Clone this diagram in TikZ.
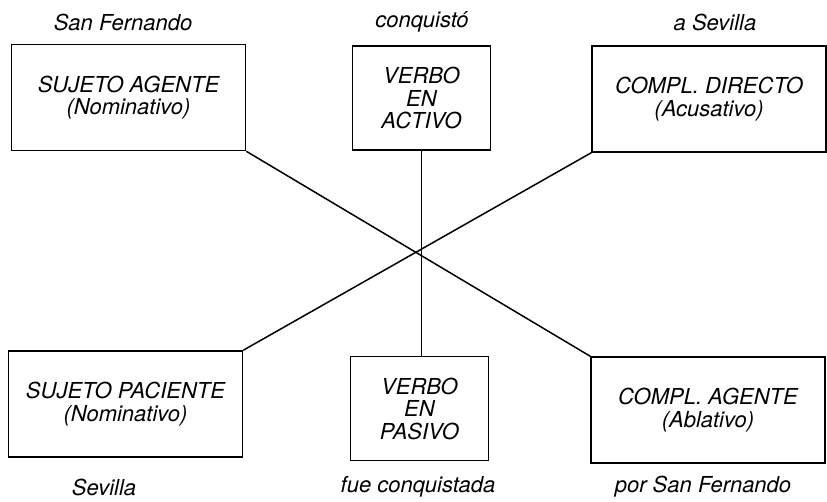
\documentclass[tikz,border=0pt]{standalone}
\usepackage{fontspec}
\setmainfont{TeX Gyre Heros}
\begin{document}
\begin{tikzpicture}[x=1pt,y=-1pt,
  every node/.style={font=\itshape\fontsize{22}{22.5}\selectfont},
  casebox/.style={draw, line width=1.5pt, minimum width=234pt, minimum height=106pt, align=center, inner sep=0pt},
  verbbox/.style={draw, line width=1.5pt, minimum width=138pt, minimum height=104pt, align=center, inner sep=0pt},
  ex/.style={inner sep=0pt}]

\useasboundingbox (0,0) rectangle (827,501);

%% Voz activa
\node [casebox] (sa) at (128.5,97.5) {SUJETO AGENTE\\(Nominativo)};
\node [verbbox] (va) at (421.5,98) {VERBO\\EN\\ACTIVO};
\node [casebox] (cd) at (709,99) {COMPL. DIRECTO\\(Acusativo)};
\node [ex] (sa-ex) at (123,22) {San Fernando};
\node [ex] (va-ex) at (422,22) {conquistó};
\node [ex] (cd-ex) at (715,22) {a Sevilla};

%% Voz pasiva
\node [casebox] (sp) at (125.5,404) {SUJETO PACIENTE\\(Nominativo)};
\node [verbbox] (vp) at (419.5,408.5) {VERBO\\EN\\PASIVO};
\node [casebox] (cag) at (708,410) {COMPL. AGENTE\\(Ablativo)};
\node [ex] (sp-ex) at (104,487) {Sevilla};
\node [ex] (vp-ex) at (418,487) {fue conquistada};
\node [ex] (cag-ex) at (703,487) {por San Fernando};

%% Correspondencias
\draw [line width=1.5pt] (sa.south east) -- (cag.north west);
\draw [line width=1.5pt] (cd.south west) -- (sp.north east);
\draw [line width=1.5pt] (va.south) -- (va.south |- vp.north);

\end{tikzpicture}
\end{document}
